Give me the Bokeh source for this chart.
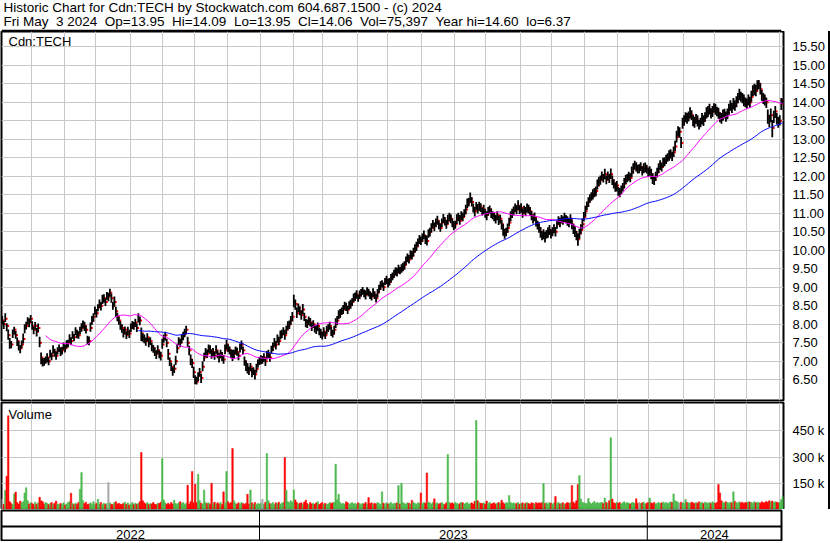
import numpy as np
import pandas as pd
from bokeh.plotting import figure
from bokeh.layouts import column
from bokeh.models import (Range1d, FixedTicker, ColumnDataSource, Label, Span,
                          PrintfTickFormatter)
from bokeh.core.properties import value
from bokeh.embed import file_html
from bokeh.resources import INLINE

# ---------------- data ----------------
last_date = "2024-05-03"

close = [
    8.1, 8.0, 8.15, 7.95, 7.7, 7.5, 7.45, 7.75, 7.85, 7.7,
    7.55, 7.4, 7.35, 7.45, 7.6, 7.9, 7.95, 8.1, 8.05, 8.15, 7.95, 7.85, 7.95,
    7.8, 7.9, 7.5, 7.1, 7.0, 6.98, 7.05, 7.1, 7.0,
    7.2, 7.15, 7.3, 7.25, 7.15, 7.3, 7.35, 7.25, 7.3, 7.4, 7.35, 7.45, 7.5,
    7.6, 7.55, 7.7, 7.65, 7.8, 7.75, 7.7, 7.85, 7.9, 8.0, 7.95, 7.85, 7.6, 7.55,
    7.9, 8.1, 8.2, 8.35, 8.3, 8.45,
    8.55, 8.5, 8.65, 8.7, 8.6, 8.75, 8.75, 8.85, 8.7, 8.5, 8.6, 8.35, 8.2, 8.1,
    7.95, 7.9, 7.75, 7.85, 7.7, 7.8, 7.75, 7.9, 8.0, 7.95, 8.05, 7.9, 8.15, 8.1,
    7.75, 7.65, 7.6, 7.55, 7.65, 7.5, 7.55, 7.4, 7.35, 7.25, 7.2, 7.3, 7.2, 7.15,
    7.45, 7.6, 7.7, 7.5, 7.2, 7.0, 6.85, 6.75, 6.8, 7.0,
    7.35, 7.55, 7.5, 7.6, 7.7, 7.75, 7.85, 7.5, 7.3, 7.05, 6.95,
    6.7, 6.5, 6.45, 6.6, 6.7, 6.55, 6.85,
    7.1, 7.25, 7.2, 7.35, 7.3, 7.2, 7.25, 7.15, 7.3, 7.2, 7.1, 7.2, 7.15, 7.05,
    7.3, 7.45, 7.35, 7.3, 7.2, 7.15, 7.2, 7.3, 7.25, 7.15, 7.35, 7.45, 7.3, 7.0,
    6.9, 6.8, 6.75, 6.85, 6.7, 6.75, 6.65, 6.8, 6.95, 7.0,
    7.05, 7.05, 7.1, 7.0, 7.15, 7.2, 7.1, 7.3, 7.4, 7.5, 7.45, 7.6, 7.55, 7.7,
    7.75, 7.8, 7.7, 7.85, 7.95, 8.0, 8.1, 8.2, 8.6, 8.55,
    8.3, 8.45, 8.35, 8.25, 8.4, 8.2, 8.05, 8.0, 8.1, 8.05,
    7.95, 8.0, 7.9, 7.85, 7.95, 7.8, 7.75, 7.7, 7.8, 7.7,
    7.85, 7.9, 7.95, 7.8, 7.75, 7.85, 8.0, 8.1, 8.25, 8.3,
    8.35, 8.4, 8.5, 8.45, 8.4, 8.5, 8.55, 8.6, 8.7, 8.75, 8.8, 8.7,
    8.8, 8.85, 8.9, 8.85, 8.8, 8.9, 8.85, 8.8, 8.75, 8.85, 8.8, 8.7,
    8.85, 8.95, 9.05, 9.1, 9.0, 9.15, 9.2, 9.1, 9.15, 9.25,
    9.3, 9.35, 9.45, 9.4, 9.5, 9.45, 9.5, 9.55, 9.6, 9.7,
    9.8, 9.75, 9.9, 9.85, 9.95, 10.05, 10.1,
    10.2, 10.3, 10.25, 10.35, 10.4, 10.3, 10.25, 10.45, 10.5,
    10.6, 10.7, 10.65, 10.75, 10.8, 10.7, 10.6, 10.75, 10.85, 10.8, 10.7,
    10.8, 10.9, 10.85, 10.75, 10.65, 10.7, 10.85, 10.9, 10.8, 10.95, 10.9,
    11.0, 11.1, 11.25, 11.3, 11.4, 11.3, 11.15, 11.05, 11.2, 11.1, 11.2,
    11.15, 11.05, 11.1, 11.0, 10.95, 11.05, 11.1,
    11.0, 10.95, 10.9, 10.85, 10.95, 10.8, 10.85,
    10.7, 10.55, 10.45, 10.5, 10.6, 10.75,
    10.9, 11.0, 11.05, 11.15, 11.1, 11.2, 11.1,
    11.15, 11.0, 11.1, 11.05, 11.15, 11.1, 11.05,
    10.95, 10.85, 10.9, 10.75, 10.7,
    10.6, 10.5, 10.4, 10.45, 10.35, 10.45, 10.5,
    10.55, 10.45, 10.5, 10.6, 10.5,
    10.7, 10.8, 10.75, 10.85, 10.8, 10.9, 10.85, 10.8, 10.75,
    10.85, 10.7, 10.6, 10.5, 10.4, 10.3, 10.45, 10.55,
    10.7, 10.9, 11.05, 11.2, 11.3, 11.4, 11.45, 11.5, 11.55, 11.6,
    11.75, 11.85, 11.9, 12.0, 11.95, 12.05, 11.9, 12.0, 11.95,
    12.05, 11.9, 11.8, 11.7, 11.75, 11.6, 11.55, 11.65, 11.7,
    11.8, 11.9, 11.95, 12.0, 11.95, 12.1, 12.2, 12.3, 12.25, 12.2,
    12.2, 12.25, 12.15, 12.2, 12.25, 12.2, 12.1, 12.15, 12.05,
    11.95, 11.9, 12.0, 12.1, 12.2, 12.3, 12.25, 12.35, 12.4,
    12.45, 12.5, 12.55, 12.6, 12.55, 12.65, 12.8, 13.05, 13.2, 13.2, 12.9,
    13.4, 13.5, 13.6, 13.55, 13.6,
    13.7, 13.65, 13.5, 13.45, 13.55, 13.5, 13.4, 13.45, 13.55, 13.5, 13.6,
    13.7, 13.75, 13.8, 13.7, 13.75, 13.85, 13.8, 13.75,
    13.7, 13.6, 13.55, 13.65, 13.7, 13.6, 13.7,
    13.8, 13.9, 13.85, 13.95, 13.9, 14.0,
    14.1, 14.2, 14.15, 14.1, 14.05, 14.0, 13.95, 14.05, 14.0,
    14.15, 14.3, 14.35, 14.3, 14.45, 14.5, 14.35,
    14.2, 14.1, 14.05, 14.0, 13.6, 13.5, 13.65, 13.3,
    13.6, 13.75, 13.55, 13.45, 13.5, 13.95, 14.06,
]

# distance of each day's high above / low below the close, in cents
hi_up = [
    12, 9, 15, 8, 16, 13, 10, 11, 8, 12, 9, 14, 8, 11, 15, 10, 12, 9, 11, 10,
    13, 8, 11, 10, 12, 16, 14, 9, 11, 8, 12, 10, 11, 8, 13, 9, 11, 8, 10, 12,
    9, 11, 10, 12, 8, 13, 10, 11, 9, 12, 10, 11, 8, 13, 10, 12, 11, 9, 12, 15,
    12, 10, 13, 11, 9, 12, 10, 15, 11, 10, 12, 10, 11, 13, 10, 15, 12, 11, 10, 13,
    10, 12, 9, 11, 13, 10, 12, 9, 11, 10, 12, 15, 11, 16, 10, 12, 9, 11, 13, 10,
    11, 9, 12, 10, 13, 9, 11, 16, 12, 10, 11, 13, 10, 12, 9, 11, 15, 12, 10, 11,
    12, 10, 13, 11, 16, 12, 13, 11, 15, 12, 13, 10, 12, 11, 15, 13, 11, 12, 10, 13,
    12, 11, 10, 13, 9, 12, 11, 10, 12, 15, 13, 11, 10, 12, 16, 11, 10, 12, 9, 13,
    11, 10, 13, 12, 15, 11, 10, 12, 9, 11, 13, 10, 12, 11, 9, 12, 10, 13, 11, 10,
    12, 11, 13, 10, 12, 11, 13, 10, 12, 15, 11, 13, 10, 12, 13, 20, 12, 15, 11, 13,
    12, 15, 11, 10, 13, 11, 12, 10, 11, 9, 12, 10, 11, 13, 10, 12, 9, 11, 10, 12,
    13, 10, 11, 16, 12, 13, 11, 10, 12, 11, 13, 10, 12, 11, 10, 13, 11, 12, 10, 11,
    10, 11, 9, 12, 10, 11, 9, 10, 12, 9, 11, 10, 12, 11, 9, 12, 10, 11, 13, 10,
    11, 10, 12, 9, 13, 11, 10, 12, 11, 10, 13, 11, 12, 10, 13, 12, 11, 13, 12, 11,
    12, 10, 13, 11, 15, 12, 11, 13, 12, 10, 11, 13, 10, 12, 11, 13, 10, 12, 16, 11,
    12, 11, 13, 10, 12, 11, 15, 10, 12, 11, 13, 15, 12, 16, 13, 11, 12, 10, 15, 11,
    12, 10, 13, 11, 10, 12, 11, 13, 10, 12, 11, 10, 13, 11, 12, 15, 13, 11, 12, 13,
    15, 12, 13, 11, 12, 15, 11, 12, 13, 10, 12, 11, 13, 12, 10, 11, 12, 13, 10, 12,
    13, 11, 12, 15, 10, 12, 13, 11, 12, 10, 13, 11, 12, 13, 10, 12, 11, 10, 12, 11,
    12, 13, 11, 15, 12, 16, 13, 15, 16, 13, 15, 12, 13, 11, 12, 15, 13, 12, 16, 13,
    12, 13, 11, 15, 12, 13, 11, 16, 12, 11, 13, 12, 11, 13, 10, 12, 15, 13, 11, 12,
    13, 16, 15, 12, 13, 11, 12, 13, 11, 15, 12, 11, 13, 12, 15, 13, 11, 12, 13, 15,
    13, 12, 15, 11, 13, 12, 15, 13, 11, 15, 16, 18, 15, 12, 16, 18, 15, 13, 16, 15,
    16, 13, 15, 16, 13, 15, 12, 13, 16, 15, 13, 16, 15, 16, 13, 15, 12, 16, 13, 15,
    13, 16, 15, 12, 15, 13, 16, 15, 13, 16, 15, 16, 15, 16, 13, 15, 16, 13, 15, 16,
    15, 16, 16, 15, 17, 14, 10, 16, 13, 15, 16, 13, 20, 16, 18, 22, 17, 15, 16, 15,
    15, 16, 3,
]
lo_dn = [
    11, 13, 9, 14, 12, 16, 10, 12, 13, 9, 14, 11, 13, 10, 12, 14, 9, 11, 13, 10,
    10, 12, 9, 13, 11, 12, 18, 14, 10, 12, 13, 11, 10, 12, 9, 13, 11, 12, 10, 11,
    12, 9, 11, 10, 13, 10, 12, 9, 11, 10, 13, 9, 12, 10, 11, 13, 10, 14, 12, 10,
    11, 13, 9, 12, 10, 11, 13, 10, 12, 11, 9, 13, 10, 12, 11, 13, 16, 12, 11, 10,
    13, 11, 12, 10, 9, 12, 11, 13, 10, 12, 11, 10, 13, 20, 12, 11, 13, 10, 12, 11,
    13, 12, 11, 14, 10, 12, 13, 11, 10, 14, 12, 16, 13, 11, 14, 12, 10, 13, 11, 12,
    11, 13, 10, 12, 11, 14, 16, 13, 15, 12, 8, 13, 11, 14, 12, 10, 13, 11, 12, 10,
    13, 12, 11, 10, 12, 13, 11, 14, 12, 11, 13, 10, 12, 11, 14, 13, 11, 10, 12, 11,
    13, 11, 12, 16, 13, 12, 11, 13, 12, 14, 11, 12, 10, 13, 12, 11, 13, 10, 12, 11,
    10, 12, 11, 13, 10, 12, 11, 13, 10, 12, 11, 10, 13, 11, 12, 14, 16, 13, 12, 11,
    13, 12, 11, 13, 10, 12, 11, 13, 10, 12, 11, 13, 10, 12, 11, 13, 10, 12, 11, 10,
    12, 11, 13, 10, 12, 11, 13, 10, 12, 11, 9, 12, 10, 13, 11, 10, 12, 11, 9, 12,
    11, 10, 12, 13, 11, 10, 12, 11, 10, 12, 11, 13, 10, 12, 11, 10, 9, 12, 11, 10,
    12, 11, 10, 13, 11, 12, 10, 11, 12, 13, 10, 12, 11, 13, 10, 12, 11, 12, 10, 13,
    11, 12, 10, 13, 12, 11, 13, 12, 10, 14, 12, 11, 13, 10, 12, 11, 13, 12, 10, 11,
    12, 13, 11, 12, 14, 12, 11, 13, 12, 10, 13, 11, 12, 11, 12, 13, 14, 12, 11, 13,
    12, 11, 13, 12, 14, 11, 12, 13, 11, 12, 13, 14, 12, 13, 14, 16, 14, 12, 13, 11,
    12, 13, 11, 12, 13, 11, 12, 14, 12, 11, 12, 13, 11, 12, 14, 13, 12, 11, 14, 13,
    16, 13, 15, 14, 13, 16, 14, 13, 12, 14, 13, 12, 11, 13, 12, 11, 13, 12, 14, 13,
    14, 13, 16, 14, 13, 18, 14, 12, 13, 12, 14, 11, 13, 12, 11, 13, 12, 14, 11, 12,
    13, 11, 12, 13, 12, 11, 13, 12, 14, 13, 12, 16, 13, 12, 14, 11, 13, 12, 11, 12,
    11, 12, 13, 11, 12, 13, 12, 11, 13, 12, 14, 13, 12, 14, 13, 16, 14, 12, 13, 11,
    13, 12, 11, 13, 12, 11, 13, 12, 14, 13, 12, 14, 13, 16, 14, 12, 13, 14, 13, 12,
    14, 13, 15, 14, 13, 16, 14, 13, 15, 14, 13, 14, 15, 13, 14, 15, 13, 14, 13, 15,
    14, 13, 15, 14, 13, 16, 14, 13, 14, 15, 13, 14, 13, 15, 14, 13, 16, 14, 13, 14,
    15, 14, 13, 16, 14, 13, 15, 14, 16, 15, 14, 16, 18, 17, 19, 25, 16, 18, 15, 14,
    13, 16, 11,
]

# daily volume, thousands of shares
volume_k = [
    60, 30, 110, 190, 536, 45, 35, 28, 90, 100, 40, 32, 48, 38, 45, 95, 125, 50, 32, 40,
    35, 28, 42, 30, 38, 70, 50, 45, 32, 40, 36, 28, 34, 40, 30, 36, 48, 32, 28, 35,
    30, 38, 26, 32, 40, 45, 93, 34, 28, 36, 30, 40, 116, 211, 50, 35, 42, 28, 32, 38,
    30, 45, 28, 35, 58, 32, 40, 28, 36, 30, 34, 154, 38, 30, 28, 40, 45, 32, 36, 30,
    28, 35, 42, 30, 38, 26, 32, 40, 28, 36, 30, 34, 45, 326, 50, 38, 32, 40, 28, 35,
    32, 40, 30, 28, 36, 34, 42, 291, 55, 38, 30, 36, 28, 40, 32, 53, 35, 30, 38, 45,
    34, 40, 28, 36, 139, 32, 45, 217, 38, 144, 40, 202, 50, 36, 32, 112, 40, 34, 38, 30,
    150, 36, 42, 30, 38, 32, 40, 28, 101, 36, 217, 45, 34, 40, 349, 50, 36, 30, 38, 32,
    40, 34, 28, 36, 87, 32, 112, 38, 30, 40, 28, 35, 32, 36, 58, 30, 42, 320, 50, 34,
    32, 40, 28, 38, 34, 42, 30, 36, 40, 297, 110, 45, 38, 50, 42, 112, 55, 40, 32, 36,
    38, 30, 42, 53, 34, 28, 40, 32, 36, 30, 38, 44, 28, 34, 40, 30, 36, 28, 32, 40,
    34, 38, 42, 259, 55, 87, 40, 32, 36, 30, 44, 38, 28, 34, 40, 32, 36, 30, 38, 34,
    28, 36, 32, 40, 30, 68, 34, 38, 28, 36, 32, 40, 34, 30, 101, 36, 28, 38, 32, 34,
    40, 30, 36, 34, 38, 137, 32, 150, 40, 34, 30, 38, 36, 32, 53, 40, 34, 30, 38, 36,
    95, 34, 40, 36, 209, 42, 38, 32, 40, 61, 34, 38, 30, 36, 40, 32, 28, 38, 314, 40,
    34, 38, 32, 40, 36, 30, 34, 42, 38, 32, 36, 40, 30, 34, 38, 32, 47, 509, 50, 40,
    36, 34, 38, 30, 48, 36, 40, 32, 34, 38, 30, 36, 40, 34, 53, 38, 32, 40, 36, 80,
    40, 34, 38, 32, 36, 40, 30, 34, 38, 32, 36, 40, 34, 30, 38, 36, 32, 40, 34, 38,
    36, 40, 148, 34, 38, 32, 40, 36, 30, 38, 74, 34, 40, 32, 36, 38, 30, 34, 40, 36,
    38, 137, 42, 34, 50, 143, 194, 60, 40, 38, 36, 34, 63, 40, 32, 38, 46, 34, 40, 36,
    38, 42, 34, 66, 40, 36, 50, 410, 60, 38, 34, 42, 36, 40, 32, 38, 44, 34, 40, 36,
    32, 38, 40, 34, 61, 36, 40, 34, 38, 42, 32, 36, 40, 66, 38, 34, 40, 32, 36, 40,
    34, 38, 42, 36, 40, 34, 38, 44, 40, 89, 50, 46, 40, 36, 42, 38, 34, 57, 40, 38,
    36, 42, 38, 34, 40, 36, 44, 38, 40, 34, 42, 38, 36, 40, 34, 44, 38, 36, 40, 143,
    95, 50, 42, 38, 44, 40, 36, 42, 38, 101, 46, 40, 36, 44, 38, 42, 34, 40, 38, 44,
    43, 40, 36, 44, 38, 42, 40, 36, 44, 38, 40, 46, 42, 50, 44, 48, 40, 44, 42, 38,
    40, 57, 75,
]

price_ticks = [6.5, 7.0, 7.5, 8.0, 8.5, 9.0, 9.5, 10.0, 10.5, 11.0, 11.5, 12.0,
               12.5, 13.0, 13.5, 14.0, 14.5, 15.0, 15.5]
volume_ticks = [150, 300, 450]
volume_tick_labels = ["150 k", "300 k", "450 k"]

ma_fast_days = 30
ma_slow_days = 92

title_line1 = "Historic Chart for Cdn:TECH by Stockwatch.com 604.687.1500 - (c) 2024"
title_line2 = ("Fri May\u00a0\u00a03 2024\u00a0\u00a0Op=13.95\u00a0\u00a0Hi=14.09\u00a0\u00a0"
               "Lo=13.95\u00a0\u00a0Cl=14.06\u00a0\u00a0Vol=75,397\u00a0\u00a0"
               "Year hi=14.60\u00a0\u00a0lo=6.37")
symbol = "Cdn:TECH"

# ---------------- derived ----------------
N = min(len(close), len(hi_up), len(lo_dn), len(volume_k))
c = np.array(close[:N], dtype=float)
high = c + np.array(hi_up[:N]) / 100.0
low = c - np.array(lo_dn[:N]) / 100.0
vol = np.array(volume_k[:N], dtype=float)
dates = pd.bdate_range(end=last_date, periods=N)
xi = np.arange(N)

ma_fast = pd.Series(c).rolling(ma_fast_days).mean()
ma_slow = pd.Series(c).rolling(ma_slow_days).mean()

GREEN, RED, GRAY = "#4CB84C", "#FF0000", "#A8A8A8"
chg = np.round(np.diff(c, prepend=c[0]) * 100)
vcol = np.where(chg > 0, GREEN, np.where(chg < 0, RED, GRAY))

month_pos = [i - 0.5 for i in range(1, N) if dates[i].month != dates[i - 1].month]
year_pos = [i - 0.5 for i in range(1, N) if dates[i].year != dates[i - 1].year]
years = sorted(set(d.year for d in dates))
year_mid = []
for y in years:
    ids = [i for i in range(N) if dates[i].year == y]
    year_mid.append((ids[0] + ids[-1]) / 2.0)

src = ColumnDataSource(dict(x=xi, xc=xi + 0.7, high=high, low=low, close=c,
                            vol=vol, vcol=vcol, maf=ma_fast, mas=ma_slow))

FONT = "Liberation Sans"
GRID = "#C8C8C8"
FW = 780
LEFT = 1
RIGHT = 47
TOTAL_W = 830
XR = Range1d(-0.5, N - 0.5)

# ---------------- header ----------------
HH = 31
hdr = figure(width=TOTAL_W, height=HH, x_range=Range1d(0, TOTAL_W), y_range=Range1d(0, HH),
             output_backend="svg", toolbar_location=None, min_border=0,
             x_axis_location=None, y_axis_location=None, outline_line_color=None)
hdr.grid.visible = False
hdr.add_layout(Label(x=2, y=HH - 14.5, x_units="screen", y_units="screen", text=title_line1,
                     text_font=FONT, text_font_size="13.5px", text_color="black"))
hdr.add_layout(Label(x=2, y=HH - 28.8, x_units="screen", y_units="screen", text=title_line2,
                     text_font=FONT, text_font_size="13.5px", text_color="black"))
hdr.add_layout(Span(location=0.6, dimension="width", line_color="black", line_width=2.2))


def panel(h, yr, top=1, bottom=1):
    f = figure(frame_width=FW, frame_height=h, x_range=XR, y_range=yr,
               output_backend="svg", toolbar_location=None,
               min_border_left=LEFT, min_border_right=RIGHT,
               min_border_top=top, min_border_bottom=bottom,
               x_axis_location=None, y_axis_location="right",
               outline_line_color="black", outline_line_width=2,
               styles={"border-right": "2px solid black"})
    f.xgrid.ticker = FixedTicker(ticks=month_pos)
    for g in (f.xgrid, f.ygrid):
        g.grid_line_color = GRID
        g.grid_line_width = 1
    ax = f.yaxis[0]
    ax.axis_line_color = None
    ax.major_tick_line_color = None
    ax.minor_tick_line_color = None
    ax.major_label_text_font = FONT
    ax.major_label_text_font_size = "13px"
    ax.major_label_text_color = "black"
    ax.major_label_standoff = 3
    return f


# ---------------- price ----------------
PH = 369
p = panel(PH, Range1d(5.94, 15.91), top=0, bottom=1)
p.yaxis.ticker = FixedTicker(ticks=price_ticks)
p.ygrid.ticker = FixedTicker(ticks=price_ticks)
p.yaxis.formatter = PrintfTickFormatter(format="%.2f")
p.rect(x="xc", y="close", width=2.5, height=2, width_units="screen", height_units="screen",
       source=src, fill_color=RED, line_color=None)
p.segment(x0="x", y0="low", x1="x", y1="high", source=src, line_color="black",
          line_width=1.8, line_cap="butt")
p.line(x="x", y="maf", source=src, line_color="#FF00FF", line_width=1)
p.line(x="x", y="mas", source=src, line_color="#0000FF", line_width=1)
p.add_layout(Label(x=7, y=PH - 17.5, x_units="screen", y_units="screen", text=symbol,
                   text_font=FONT, text_font_size="13px", text_color="black"))

# ---------------- volume ----------------
VH = 107
v = panel(VH, Range1d(0, 612), top=1, bottom=0)
v.yaxis.ticker = FixedTicker(ticks=volume_ticks)
v.ygrid.ticker = FixedTicker(ticks=volume_ticks)
v.yaxis.major_label_overrides = {t: s for t, s in zip(volume_ticks, volume_tick_labels)}
v.vbar(x="x", top="vol", bottom=0, width=1.0, source=src, fill_color="vcol",
       line_color="vcol", line_width=0.5)
v.add_layout(Label(x=7, y=VH - 19, x_units="screen", y_units="screen", text="Volume",
                   text_font=FONT, text_font_size="13px", text_color="black"))

# ---------------- year strip ----------------
YH = 30
yrs = figure(frame_width=FW, frame_height=YH, x_range=XR, y_range=Range1d(0, YH),
             output_backend="svg", toolbar_location=None,
             min_border_left=LEFT, min_border_right=RIGHT + 2, min_border_top=1,
             min_border_bottom=1,
             x_axis_location=None, y_axis_location=None,
             outline_line_color="black", outline_line_width=2)
yrs.grid.visible = False
yrs.add_layout(Span(location=14, dimension="width", line_color="black", line_width=2))
for xp in year_pos:
    yrs.add_layout(Span(location=xp, dimension="height", line_color="black", line_width=1))
yrs.text(x=year_mid, y=[6] * len(years), text=[str(y) for y in years],
         text_font=value(FONT), text_font_size="13px", text_align="center",
         text_baseline="middle", text_color="black")

layout = column(hdr, p, v, yrs, spacing=0)
open("out.html", "w").write(file_html(layout, INLINE))
